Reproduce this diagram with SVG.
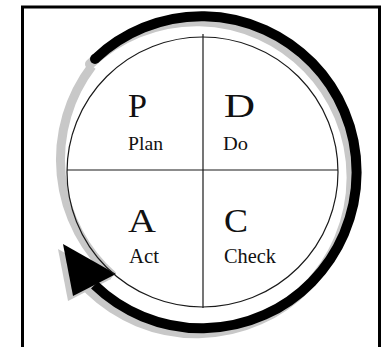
<svg xmlns="http://www.w3.org/2000/svg" width="383" height="347" viewBox="0 0 383 347">
<style>
.big{font-family:"Liberation Serif","Times New Roman",serif;font-size:33px;fill:#111}
.lbl{font-family:"Liberation Serif","Times New Roman",serif;fill:#111}
.thin{stroke:#1a1a1a;stroke-width:1.2;fill:none}
.frame{stroke:#000;stroke-width:3;fill:none}
.shadow{stroke:#c8c8c8;fill:none}
</style>
<rect width="383" height="347" fill="#fff"/>
<g id="frame">
<path class="frame" d="M22.5 347 V7 H379.5 V347"/>
</g>
<g id="connectors">
<path class="shadow" stroke-width="9" d="M92 66 A155 155 0 0 0 113 276"/>
<path class="shadow" stroke-width="10" stroke-linecap="round" d="M90 64 A155 156 0 1 1 89.5 290"/>
<polygon points="58,249 68,301 111,279" fill="#c8c8c8"/>
<path d="M95 59 A155 156 0 1 1 94.5 285" fill="none" stroke="#000" stroke-width="10" stroke-linecap="butt"/>
<circle cx="95" cy="59" r="5" fill="#000"/>
<polygon points="63,244 73,296 116,274" fill="#000"/>
</g>
<g id="cycle">
<ellipse class="thin" cx="202.5" cy="172" rx="135.5" ry="135" fill="#fff"/>
<line class="thin" x1="203" y1="34" x2="203" y2="308"/>
<line class="thin" x1="67" y1="170" x2="338" y2="170"/>
</g>
<g id="plan">
<text class="big" x="128" y="117" textLength="19" lengthAdjust="spacingAndGlyphs">P</text>
<text class="lbl" x="128" y="150" font-size="18" textLength="35" lengthAdjust="spacingAndGlyphs">Plan</text>
</g>
<g id="do">
<text class="big" x="224" y="117" textLength="31" lengthAdjust="spacingAndGlyphs">D</text>
<text class="lbl" x="223" y="150" font-size="18" textLength="25" lengthAdjust="spacingAndGlyphs">Do</text>
</g>
<g id="act">
<text class="big" x="128" y="232" textLength="28" lengthAdjust="spacingAndGlyphs">A</text>
<text class="lbl" x="129" y="263" font-size="20" textLength="30" lengthAdjust="spacingAndGlyphs">Act</text>
</g>
<g id="check">
<text class="big" x="224" y="232" textLength="24" lengthAdjust="spacingAndGlyphs">C</text>
<text class="lbl" x="224" y="263" font-size="20" textLength="52" lengthAdjust="spacingAndGlyphs">Check</text>
</g>
</svg>
